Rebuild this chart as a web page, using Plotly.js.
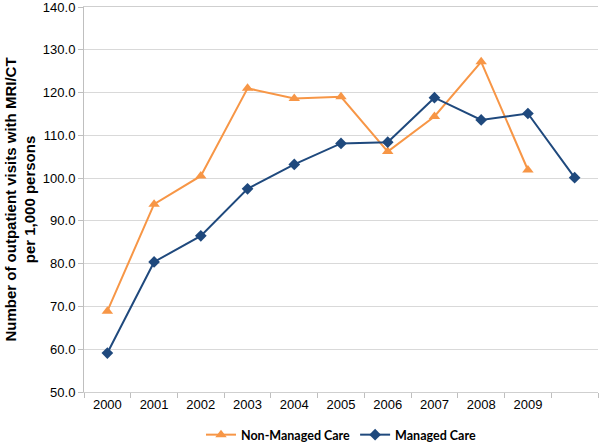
<!DOCTYPE html>
<html>
<head>
<meta charset="utf-8">
<script src="https://cdn.plot.ly/plotly-3.0.1.min.js"></script>
<style>html,body{margin:0;padding:0;background:#fff;}#chart{width:600px;height:443px;}</style>
</head>
<body>
<div id="chart"></div>
<script>
var positions = [0,1,2,3,4,5,6,7,8,9,10];
var tickLabels = ["2000","2001","2002","2003","2004","2005","2006","2007","2008","2009"];
var yTicks = [50, 60, 70, 80, 90, 100, 110, 120, 130, 140];
var nonManaged = [68.9, 93.9, 100.5, 121.0, 118.6, 119.0, 106.2, 114.4, 127.2, 101.9, null];
var managed = [59.1, 80.4, 86.5, 97.5, 103.2, 108.1, 108.4, 118.8, 113.6, 115.1, 100.1];

var traces = [
  {x: positions, y: nonManaged, name: "Non-Managed Care", type: "scatter", mode: "lines+markers",
   line: {color: "#f79646", width: 2}, marker: {symbol: "triangle-up", size: 10, color: "#f79646"}},
  {x: positions, y: managed, name: "Managed Care", type: "scatter", mode: "lines+markers",
   line: {color: "#1f497d", width: 2}, marker: {symbol: "diamond", size: 9, color: "#1f497d"}}
];

var layout = {
  width: 600, height: 443,
  margin: {l: 84, r: 2, t: 7, b: 51},
  paper_bgcolor: "#fff", plot_bgcolor: "#fff",
  font: {family: "Arial", size: 13, color: "#000"},
  showlegend: true,
  legend: {orientation: "h", x: 0.5, xanchor: "center", yref: "container", y: 0.018, yanchor: "middle", itemwidth: 30,
           font: {family: "Lato", size: 12.5, color: "#000", weight: "bold"}, traceorder: "normal"},
  xaxis: {
    range: [-0.5, 10.5], tickvals: positions.slice(0, tickLabels.length), ticktext: tickLabels,
    ticks: "", showgrid: false, zeroline: false, showline: true, mirror: true, linecolor: "#cfcfcf", linewidth: 1,
    minor: {ticks: "outside", tick0: -0.5, dtick: 1, ticklen: 5, tickcolor: "#bfbfbf", showgrid: false},
    tickfont: {family: "Arial", size: 13}, fixedrange: true, ticklabeloverflow: "allow"
  },
  yaxis: {
    range: [50, 140], tickmode: "array", tickvals: yTicks, tickformat: ".1f",
    showgrid: true, gridcolor: "#d9d9d9", gridwidth: 1, zeroline: false,
    showline: true, linecolor: "#bfbfbf", linewidth: 1, ticks: "outside", ticklen: 5, tickcolor: "#bfbfbf",
    tickfont: {family: "Arial", size: 13}, ticklabeloverflow: "allow",
    title: {text: "Number of outpatient visits with MRI/CT<br>per 1,000 persons", font: {family: "Arial", size: 15, weight: "bold"}, standoff: 3},
    automargin: false
  }
};
Plotly.newPlot("chart", traces, layout, {displayModeBar: false, staticPlot: true});
</script>
</body>
</html>
